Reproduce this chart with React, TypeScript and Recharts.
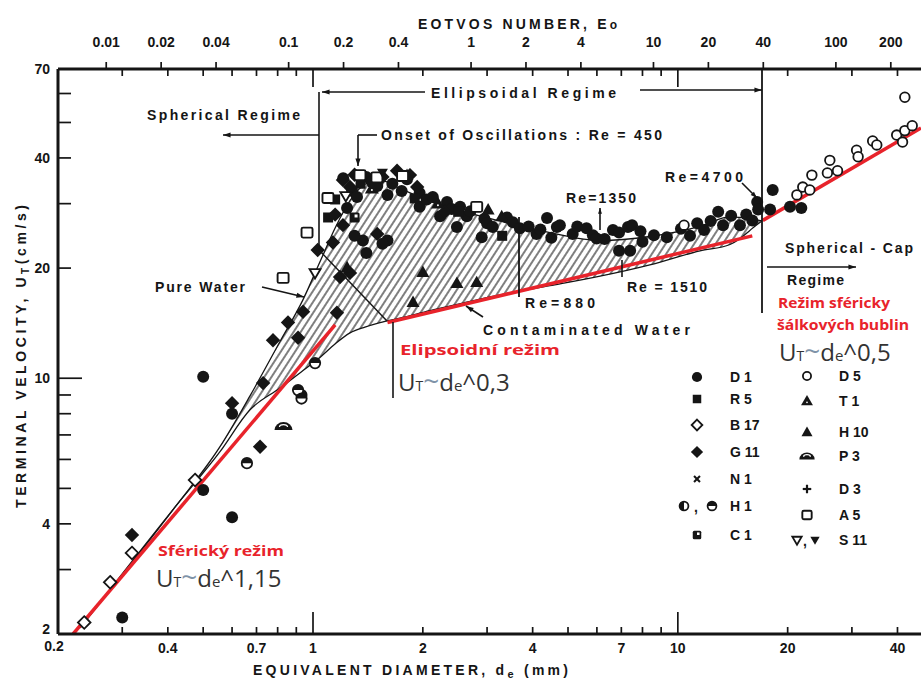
import React from "react";
import { ComposedChart, XAxis, YAxis, Line, Area, Scatter } from "recharts";

const W = 921;
const H = 680;
const LEFT = 58;
const TOP = 69;
const BOTTOM = 634;

const INK = "#151515";
const RED = "#e8232b";
const SCAN = "'Liberation Sans', Arial, Helvetica, sans-serif";
const SANS = "'Open Sans', 'Noto Sans', sans-serif";

// Eo = 0.136 * d^2 for air bubbles in water (d in mm)
const EO_FACTOR = 0.136;
const D_MIN = 0.2;
const D_MAX = 46.4;

const dTicks = [0.2, 0.3, 0.4, 0.5, 0.6, 0.7, 0.8, 0.9, 1, 2, 3, 4, 5, 6, 7, 8, 9, 10, 20, 30, 40];
const dLabels = [0.2, 0.4, 0.7, 1, 2, 4, 7, 10, 20, 40];
const uTicks = [2, 3, 4, 5, 6, 7, 8, 9, 10, 20, 30, 40, 50, 60, 70];
const uLabels = [2, 4, 10, 20, 40, 70];
const eoTicks = [0.01, 0.02, 0.04, 0.1, 0.2, 0.4, 1, 2, 4, 10, 20, 40, 100, 200];

// hatched band between pure and contaminated water
const bandD = [0.23, 0.419, 0.556, 0.672, 0.812, 0.939, 1.045, 1.149, 1.263, 1.388, 1.526, 1.731, 2.09, 2.61, 3.46, 4.46, 6.12, 8.38, 11.5, 13.9, 16.5, 17.0];
const pureWater = [2.08, 4.45, 6.5, 8.95, 12.6, 16.4, 20.8, 25.7, 30.6, 33.9, 34.8, 33.0, 30.5, 28.5, 26.5, 25.0, 23.8, 24.4, 26.0, 27.6, 27.1, 26.9];
const contaminated = [2.08, 4.45, 6.3, 8.2, 9.4, 10.5, 11.4, 12.4, 13.3, 13.8, 14.2, 14.6, 15.3, 16.1, 17.1, 17.9, 19.0, 20.4, 22.3, 23.2, 26.3, 26.9];

// red power-law fits
const sphFitD = [0.22, 1.15];
const sphFitU = [2.0, 14.0];
const ellFitD = [1.6, 16.0];
const ellFitU = [14.2, 24.5];
const capFitD = [17.1, 46.4];
const capFitU = [27.0, 48.3];

// measured points [d (mm), U (cm/s)]
const d1Pts: [number, number][] = [
  [0.3, 2.22], [0.5, 10.1], [0.5, 4.95], [0.6, 4.17], [0.6, 8.0], [0.93, 9.0],
  [1.21, 35.2], [1.24, 29.2], [1.28, 32.5], [1.32, 31.3], [1.4, 35.5], [1.45, 34.4], [1.5, 33.5], [1.6, 31.7],
  [1.65, 34.0], [1.75, 32.5], [1.6, 23.8], [1.37, 23.8], [1.55, 23.3], [1.4, 22.0], [1.3, 24.5],
  [1.81, 35.0], [1.96, 32.1], [1.96, 29.4], [2.05, 30.8], [2.13, 31.3], [2.33, 30.3], [2.4, 29.0], [2.53, 29.4],
  [2.64, 27.7], [2.7, 28.6], [2.23, 27.7], [2.48, 25.9], [2.9, 24.3], [2.95, 27.3], [3.0, 26.5], [3.11, 25.9],
  [3.4, 27.5], [3.53, 26.7], [3.69, 25.7], [3.9, 26.0], [4.1, 24.8], [4.2, 25.5], [4.5, 24.2],
  [4.38, 27.4], [4.66, 25.9], [4.75, 26.2], [5.15, 24.8], [5.3, 26.0], [5.62, 25.7], [5.85, 24.6], [5.99, 24.1],
  [6.3, 24.0], [6.64, 25.4], [6.9, 22.3], [6.9, 25.0], [7.3, 25.9], [7.4, 22.3], [7.49, 26.2], [7.9, 25.2],
  [8.0, 23.6], [8.6, 24.6], [9.33, 24.3], [10.2, 25.6], [10.8, 24.5], [11.3, 26.5], [11.8, 25.4], [12.3, 26.9],
  [12.9, 28.5], [13.3, 26.2], [14.0, 27.8], [14.8, 26.2], [15.4, 28.0], [16.0, 27.0], [16.5, 30.3], [16.6, 28.9],
  [17.9, 28.9], [18.2, 32.7], [20.3, 29.4], [21.8, 29.2],
];
const r5Pts: [number, number][] = [[1.1, 27.5], [1.35, 34.0], [1.9, 31.0], [2.5, 28.5], [1.15, 30.8], [3.3, 24.5]];
const b17Pts: [number, number][] = [[0.236, 2.15], [0.278, 2.77], [0.319, 3.33], [0.475, 5.27]];
const g11Pts: [number, number][] = [
  [0.319, 3.73], [0.716, 6.5], [0.6, 8.55], [0.73, 9.7], [0.777, 12.7], [0.854, 14.2], [0.939, 15.2], [0.91, 12.9],
  [1.03, 22.4], [1.134, 23.5], [1.15, 28.0], [1.208, 26.2], [1.208, 34.8], [1.263, 33.3], [1.3, 36.0], [1.163, 15.1],
  [1.263, 19.4], [1.186, 18.9], [1.55, 35.5], [1.7, 36.9], [1.844, 35.9], [1.93, 33.3], [1.5, 24.8], [2.3, 28.5],
];
const h1Pts: [number, number][] = [[0.659, 5.86], [0.91, 9.28], [0.93, 8.8], [1.013, 11.0]];
const c1Pts: [number, number][] = [[1.3, 27.5]];
const d5Pts: [number, number][] = [
  [10.4, 26.2], [21.2, 31.7], [22.0, 33.3], [23.0, 32.7], [23.3, 35.9], [25.7, 36.4], [26.1, 39.4], [27.4, 36.9],
  [30.9, 42.0], [31.2, 40.3], [34.2, 44.5], [35.1, 43.4], [39.8, 46.2], [41.3, 44.2], [41.9, 47.5], [43.9, 49.0], [41.9, 58.6],
];
const t1Pts: [number, number][] = [[1.45, 33.0], [2.2, 30.0]];
const h10Pts: [number, number][] = [[2.0, 19.5], [2.48, 18.2], [2.81, 18.3], [1.88, 16.15], [1.24, 20.1], [3.02, 28.9], [3.29, 27.7], [1.81, 35.9]];
const p3Pts: [number, number][] = [[0.83, 7.4]];
const a5Pts: [number, number][] = [[0.828, 18.8], [0.963, 25.0], [1.099, 31.1], [1.345, 35.9], [1.497, 35.4], [1.76, 35.7], [2.81, 29.4]];
const s11OpenPts: [number, number][] = [[1.013, 19.4], [1.23, 31.5]];
const s11FullPts: [number, number][] = [[1.55, 36.5]];

const bandRows = bandD.map((d, i) => ({ d, band: [contaminated[i], pureWater[i]], pure: pureWater[i], cont: contaminated[i] }));
const fitRows = (ds: number[], us: number[]) => ds.map((d, i) => ({ d, u: us[i] }));
const ptRows = (pts: [number, number][]) => pts.map(([d, u]) => ({ d, u }));

// Eotvos ticks expressed as diameters, so the diameter scale places them on the top border
const eoAsD = eoTicks.map((e) => Math.sqrt(e / EO_FACTOR));
const xTicks = [...dTicks, ...eoAsD];
const near = (a: number, b: number) => Math.abs(a - b) < 1e-9 * Math.max(1, Math.abs(b));

const scatterSets = [
  { kind: "D1", pts: d1Pts },
  { kind: "R5", pts: r5Pts },
  { kind: "B17", pts: b17Pts },
  { kind: "G11", pts: g11Pts },
  { kind: "H1", pts: h1Pts },
  { kind: "C1", pts: c1Pts },
  { kind: "D5", pts: d5Pts },
  { kind: "T1", pts: t1Pts },
  { kind: "H10", pts: h10Pts },
  { kind: "P3", pts: p3Pts },
  { kind: "A5", pts: a5Pts },
  { kind: "S11o", pts: s11OpenPts },
  { kind: "S11f", pts: s11FullPts },
];

function Marker({ kind, cx, cy, s = 1 }: { kind: string; cx: number; cy: number; s?: number }) {
  switch (kind) {
    case "D1":
      return <circle cx={cx} cy={cy} r={6 * s} fill={INK} />;
    case "R5":
      return <rect x={cx - 5 * s} y={cy - 5 * s} width={10 * s} height={10 * s} fill={INK} />;
    case "B17": {
      const a = 6.3 * s;
      return <path d={`M${cx} ${cy - a}L${cx + a} ${cy}L${cx} ${cy + a}L${cx - a} ${cy}Z`} fill="#fff" stroke={INK} strokeWidth={1.8} />;
    }
    case "G11": {
      const a = 7.2 * s;
      return <path d={`M${cx} ${cy - a}L${cx + a} ${cy}L${cx} ${cy + a}L${cx - a} ${cy}Z`} fill={INK} />;
    }
    case "N1": {
      const a = 3.5 * s;
      return (
        <g stroke={INK} strokeWidth={2}>
          <line x1={cx - a} y1={cy - a} x2={cx + a} y2={cy + a} />
          <line x1={cx - a} y1={cy + a} x2={cx + a} y2={cy - a} />
        </g>
      );
    }
    case "H1":
      return (
        <g>
          <circle cx={cx} cy={cy} r={5.2 * s} fill="#fff" stroke={INK} strokeWidth={1.8} />
          <path d={`M${cx - 5.2 * s} ${cy}A${5.2 * s} ${5.2 * s} 0 0 1 ${cx + 5.2 * s} ${cy}Z`} fill={INK} />
        </g>
      );
    case "H1b":
      return (
        <g>
          <circle cx={cx} cy={cy} r={5.2 * s} fill="#fff" stroke={INK} strokeWidth={1.8} />
          <path d={`M${cx} ${cy - 5.2 * s}A${5.2 * s} ${5.2 * s} 0 0 0 ${cx} ${cy + 5.2 * s}Z`} fill={INK} />
        </g>
      );
    case "C1":
      return (
        <g>
          <rect x={cx - 5 * s} y={cy - 5 * s} width={10 * s} height={10 * s} rx={1.5} fill={INK} />
          <rect x={cx} y={cy - 3 * s} width={3 * s} height={3 * s} fill="#fff" />
        </g>
      );
    case "D5":
      return <circle cx={cx} cy={cy} r={4.8 * s} fill="#fff" stroke={INK} strokeWidth={1.8} />;
    case "T1": {
      const a = 7 * s;
      return (
        <g>
          <path d={`M${cx} ${cy - a}L${cx + a} ${cy + a * 0.7}L${cx - a} ${cy + a * 0.7}Z`} fill={INK} />
          <circle cx={cx} cy={cy + 1.5 * s} r={1 * s} fill="#fff" />
        </g>
      );
    }
    case "H10": {
      const a = 6.5 * s;
      return <path d={`M${cx} ${cy - a}L${cx + a} ${cy + a * 0.75}L${cx - a} ${cy + a * 0.75}Z`} fill={INK} />;
    }
    case "P3":
      return (
        <g>
          <path d={`M${cx - 9 * s} ${cy + 4 * s}A${9 * s} ${8 * s} 0 0 1 ${cx + 9 * s} ${cy + 4 * s}Z`} fill={INK} />
          <path d={`M${cx - 4 * s} ${cy + 1 * s}A${4 * s} ${2.5 * s} 0 0 1 ${cx + 4 * s} ${cy + 1 * s}`} fill="none" stroke="#fff" strokeWidth={1.3} />
        </g>
      );
    case "D3": {
      const a = 5 * s;
      return (
        <g stroke={INK} strokeWidth={2.2}>
          <line x1={cx - a} y1={cy} x2={cx + a} y2={cy} />
          <line x1={cx} y1={cy - a} x2={cx} y2={cy + a} />
        </g>
      );
    }
    case "A5":
      return <rect x={cx - 5.5 * s} y={cy - 5 * s} width={11 * s} height={10 * s} rx={1.5} fill="#fff" stroke={INK} strokeWidth={1.9} />;
    case "S11o": {
      const a = 5.5 * s;
      return <path d={`M${cx - a} ${cy - a * 0.7}L${cx + a} ${cy - a * 0.7}L${cx} ${cy + a}Z`} fill="#fff" stroke={INK} strokeWidth={1.8} />;
    }
    case "S11f": {
      const a = 5.5 * s;
      return <path d={`M${cx - a} ${cy - a * 0.7}L${cx + a} ${cy - a * 0.7}L${cx} ${cy + a}Z`} fill={INK} />;
    }
    default:
      return <g />;
  }
}

const tickText = { fontFamily: SCAN, fontWeight: 700, fontSize: 14, fill: INK } as const;

// one tick component draws the bottom diameter ticks, the inner diameter ticks of the
// top border and the outer Eotvos ticks of the top border
function XTick(props: any) {
  const { x, y, payload } = props;
  const v = Number(payload.value);
  const eoIdx = eoAsD.findIndex((e) => near(e, v));
  if (eoIdx >= 0) {
    return (
      <g>
        <line x1={x} y1={TOP} x2={x} y2={TOP - 7} stroke={INK} strokeWidth={1.7} />
        <text x={x} y={TOP - 22} textAnchor="middle" {...tickText}>
          {String(eoTicks[eoIdx])}
        </text>
      </g>
    );
  }
  const long = v === 1 || v === 10;
  return (
    <g>
      {v > D_MIN && <line x1={x} y1={y} x2={x} y2={y - (long ? 22 : 7)} stroke={INK} strokeWidth={1.7} />}
      {v > D_MIN && <line x1={x} y1={TOP} x2={x} y2={TOP + (long ? 18 : 7)} stroke={INK} strokeWidth={1.7} />}
      {dLabels.includes(v) && (
        <text x={v === D_MIN ? x - 4 : x} y={y + (v === D_MIN ? 17 : 19)} textAnchor="middle" {...tickText}>
          {String(v)}
        </text>
      )}
    </g>
  );
}

function LeftTick(props: any) {
  const { x, y, payload } = props;
  const v = Number(payload.value);
  const len = v === 10 ? 24 : 13;
  return (
    <g>
      {v > 2 && v < 70 && <line x1={x} y1={y} x2={x + len} y2={y} stroke={INK} strokeWidth={1.7} />}
      {uLabels.includes(v) && (
        <text x={x - 8} y={y + (v === 2 ? 0 : 5)} textAnchor="end" {...tickText}>
          {String(v)}
        </text>
      )}
    </g>
  );
}

function Arrow({ x1, y1, x2, y2, head = 8 }: { x1: number; y1: number; x2: number; y2: number; head?: number }) {
  const a = Math.atan2(y2 - y1, x2 - x1);
  const p1 = [x2 - head * Math.cos(a - 0.33), y2 - head * Math.sin(a - 0.33)];
  const p2 = [x2 - head * Math.cos(a + 0.33), y2 - head * Math.sin(a + 0.33)];
  return (
    <g>
      <line x1={x1} y1={y1} x2={x2} y2={y2} stroke={INK} strokeWidth={1.6} />
      <polygon points={`${x2},${y2} ${p1[0]},${p1[1]} ${p2[0]},${p2[1]}`} fill={INK} />
    </g>
  );
}

function Note({ x, y, w, children }: { x: number; y: number; w?: number; children: React.ReactNode }) {
  return (
    <text x={x} y={y} textLength={w} lengthAdjust="spacing" fontFamily={SCAN} fontWeight={700} fontSize={14} fill={INK}>
      {children}
    </text>
  );
}

function RedNote({ x, y, w, children }: { x: number; y: number; w: number; children: React.ReactNode }) {
  return (
    <text x={x} y={y} textLength={w} lengthAdjust="spacingAndGlyphs" fontFamily={SANS} fontWeight={700} fontSize={14} fill={RED}>
      {children}
    </text>
  );
}

function Formula({ x, y, exp }: { x: number; y: number; exp: string }) {
  return (
    <text x={x} y={y} fontFamily={SANS} fontSize={24} fill="#333">
      U<tspan fontSize={14}>T</tspan>
      <tspan fontSize={28} fill="#7f93a8">~</tspan>d<tspan fontSize={15}>e</tspan>^{exp}
    </text>
  );
}

const legendLeft = [
  { kind: "D1", label: "D 1", y: 377 },
  { kind: "R5", label: "R 5", y: 399 },
  { kind: "B17", label: "B 17", y: 425 },
  { kind: "G11", label: "G 11", y: 452 },
  { kind: "N1", label: "N 1", y: 479 },
  { kind: "H1pair", label: "H 1", y: 506 },
  { kind: "C1", label: "C 1", y: 535 },
];
const legendRight = [
  { kind: "D5", label: "D 5", y: 376 },
  { kind: "T1", label: "T 1", y: 401 },
  { kind: "H10", label: "H 10", y: 432 },
  { kind: "P3", label: "P 3", y: 456 },
  { kind: "D3", label: "D 3", y: 489 },
  { kind: "A5", label: "A 5", y: 515 },
  { kind: "S11pair", label: "S 11", y: 540 },
];

export default function App() {
  return (
    <div style={{ position: "absolute", left: 0, top: 0, width: W, height: H, background: "#fff", overflow: "hidden" }}>
      <svg width={0} height={0} style={{ position: "absolute" }}>
        <defs>
          <pattern id="hatch" patternUnits="userSpaceOnUse" width={6} height={6} patternTransform="rotate(33)">
            <line x1={1} y1={-1} x2={1} y2={7} stroke={INK} strokeWidth={1.1} />
          </pattern>
        </defs>
      </svg>
      <ComposedChart width={W} height={H} data={bandRows} margin={{ top: 0, right: 0, bottom: 0, left: 0 }}>
        <XAxis
          dataKey="d"
          type="number"
          scale="log"
          domain={[D_MIN, D_MAX]}
          allowDataOverflow
          ticks={xTicks}
          interval={0}
          height={H - BOTTOM}
          tickSize={0}
          tickMargin={0}
          tickLine={false}
          axisLine={{ stroke: INK, strokeWidth: 3 }}
          tick={(p: any) => <XTick {...p} />}
        />
        <XAxis
          xAxisId="top"
          orientation="top"
          type="number"
          scale="log"
          domain={[D_MIN, D_MAX]}
          allowDataOverflow
          height={TOP}
          tick={false}
          tickLine={false}
          axisLine={{ stroke: INK, strokeWidth: 3 }}
        />
        <YAxis
          dataKey="u"
          type="number"
          scale="log"
          domain={[2, 70]}
          allowDataOverflow
          ticks={uTicks}
          interval={0}
          width={LEFT}
          tickSize={0}
          tickMargin={0}
          tickLine={false}
          axisLine={{ stroke: INK, strokeWidth: 3 }}
          tick={(p: any) => <LeftTick {...p} />}
        />
        <Area dataKey="band" type="monotone" fill="url(#hatch)" fillOpacity={1} stroke="none" isAnimationActive={false} />
        <Line dataKey="pure" type="monotone" stroke={INK} strokeWidth={1.3} dot={false} isAnimationActive={false} />
        <Line dataKey="cont" type="monotone" stroke={INK} strokeWidth={1.3} dot={false} isAnimationActive={false} />
        {scatterSets.map((s) => (
          <Scatter
            key={s.kind}
            data={ptRows(s.pts)}
            dataKey="u"
            isAnimationActive={false}
            shape={(p: any) => <Marker kind={s.kind} cx={p.cx} cy={p.cy} />}
          />
        ))}
        <Line data={fitRows(sphFitD, sphFitU)} dataKey="u" type="linear" stroke={RED} strokeWidth={3.5} dot={false} isAnimationActive={false} />
        <Line data={fitRows(ellFitD, ellFitU)} dataKey="u" type="linear" stroke={RED} strokeWidth={3.5} dot={false} isAnimationActive={false} />
        <Line data={fitRows(capFitD, capFitU)} dataKey="u" type="linear" stroke={RED} strokeWidth={3.5} dot={false} isAnimationActive={false} />
      </ComposedChart>

      <svg width={W} height={H} style={{ position: "absolute", left: 0, top: 0, pointerEvents: "none" }}>
        {/* axis titles */}
        <text x={418} y={29} textLength={199} lengthAdjust="spacing" fontFamily={SCAN} fontWeight={700} fontSize={14} fill={INK}>
          EOTVOS NUMBER, E<tspan fontSize={12}>o</tspan>
        </text>
        <text x={253} y={675} textLength={315} lengthAdjust="spacing" fontFamily={SCAN} fontWeight={700} fontSize={14} fill={INK}>
          EQUIVALENT DIAMETER, d<tspan fontSize={11} dy={3}>e</tspan>
          <tspan dy={-3}> (mm)</tspan>
        </text>
        <text
          transform="translate(26,508) rotate(-90)"
          textLength={303}
          lengthAdjust="spacing"
          fontFamily={SCAN}
          fontWeight={700}
          fontSize={14}
          fill={INK}
        >
          TERMINAL VELOCITY, U<tspan fontSize={10} dy={3}>T</tspan>
          <tspan dy={-3}>(cm/s)</tspan>
        </text>

        {/* regime boundaries */}
        <line x1={319} y1={92} x2={319} y2={250} stroke={INK} strokeWidth={1.6} />
        <line x1={319} y1={250} x2={387} y2={321} stroke={INK} strokeWidth={1.4} />
        <line x1={393} y1={322} x2={393} y2={398} stroke={INK} strokeWidth={1.6} />
        <line x1={762} y1={TOP} x2={762} y2={313} stroke={INK} strokeWidth={1.8} />
        <Arrow x1={319} y1={135} x2={223} y2={135} />
        <Arrow x1={425} y1={92} x2={322} y2={92} />
        <Arrow x1={640} y1={90} x2={762} y2={90} />
        <Arrow x1={767} y1={267} x2={856} y2={267} />
        <line x1={377} y1={135} x2={358} y2={135} stroke={INK} strokeWidth={1.6} />
        <Arrow x1={358} y1={135} x2={358} y2={166} />
        <Arrow x1={262} y1={287} x2={304} y2={297} />
        <Arrow x1={483} y1={317} x2={466} y2={306} />
        <line x1={519} y1={217} x2={519} y2={297} stroke={INK} strokeWidth={1.8} />
        <Arrow x1={600} y1={230} x2={600} y2={208} head={6} />
        <line x1={622} y1={260} x2={622} y2={277} stroke={INK} strokeWidth={1.6} />
        <Arrow x1={742} y1={183} x2={757} y2={198} head={7} />

        {/* scanned annotations */}
        <Note x={147} y={120} w={153}>Spherical Regime</Note>
        <Note x={431} y={98} w={185}>Ellipsoidal Regime</Note>
        <Note x={381} y={140} w={281}>Onset of Oscillations : Re = 450</Note>
        <Note x={566} y={203} w={70}>Re=1350</Note>
        <Note x={665} y={182} w={78}>Re=4700</Note>
        <Note x={525} y={308} w={70}>Re=880</Note>
        <Note x={627} y={292} w={80}>Re = 1510</Note>
        <Note x={155} y={292} w={90}>Pure Water</Note>
        <Note x={483} y={335} w={207}>Contaminated Water</Note>
        <Note x={785} y={253} w={128}>Spherical - Cap</Note>
        <Note x={787} y={285} w={57}>Regime</Note>

        {/* red overlays */}
        <RedNote x={158} y={556} w={126}>Sférický režim</RedNote>
        <Formula x={156} y={587} exp="1,15" />
        <RedNote x={400} y={355} w={160}>Elipsoidní režim</RedNote>
        <Formula x={398} y={391} exp="0,3" />
        <RedNote x={778} y={308} w={112}>Režim sféricky</RedNote>
        <RedNote x={777} y={330} w={132}>šálkových bublin</RedNote>
        <Formula x={779} y={361} exp="0,5" />

        {/* legend */}
        {legendLeft.map((l) => (
          <g key={l.label}>
            {l.kind === "H1pair" ? (
              <>
                <Marker kind="H1b" cx={684} cy={l.y} s={0.85} />
                <text x={694} y={l.y + 6} {...tickText}>,</text>
                <Marker kind="H1" cx={712} cy={l.y} s={0.85} />
              </>
            ) : (
              <Marker kind={l.kind} cx={697} cy={l.y} s={0.85} />
            )}
            <text x={730} y={l.y + 5} {...tickText}>{l.label}</text>
          </g>
        ))}
        {legendRight.map((l) => (
          <g key={l.label}>
            {l.kind === "S11pair" ? (
              <>
                <Marker kind="S11o" cx={797} cy={l.y} s={0.85} />
                <text x={803} y={l.y + 6} {...tickText}>,</text>
                <Marker kind="S11f" cx={815} cy={l.y} s={0.85} />
              </>
            ) : (
              <Marker kind={l.kind} cx={807} cy={l.y} s={0.85} />
            )}
            <text x={839} y={l.y + 5} {...tickText}>{l.label}</text>
          </g>
        ))}
      </svg>
    </div>
  );
}
